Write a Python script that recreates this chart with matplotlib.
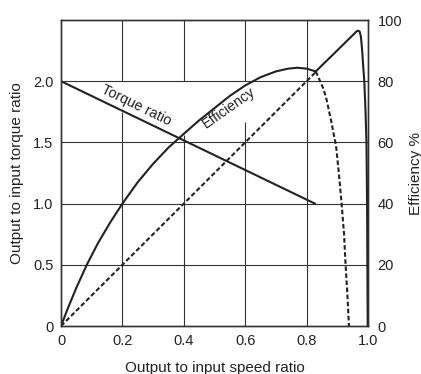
import matplotlib.pyplot as plt

plt.rcParams['font.family'] = ['Liberation Sans', 'DejaVu Sans']
plt.rcParams['font.size'] = 11

# Torque ratio line (left axis)
torque_x = [0.0, 0.827]
torque_y = [2.0, 1.0]

# Efficiency of the converter, rising part (right axis, %)
eff_x = [0, 0.02, 0.05, 0.084, 0.12, 0.16, 0.2, 0.25, 0.3, 0.35, 0.4, 0.45,
         0.5, 0.55, 0.6, 0.65, 0.7, 0.74, 0.77, 0.8, 0.83]
eff_y = [0, 5.2, 12.5, 20, 27, 33.8, 40, 47, 53, 58.3, 62.8, 67.2,
         71.2, 75.2, 78.6, 81.3, 83.2, 84.1, 84.4, 84.1, 83.2]

# Converter efficiency falling off (dashed)
drop_x = [0.83, 0.844, 0.855, 0.865, 0.88, 0.896, 0.905, 0.914, 0.922, 0.927, 0.933, 0.938]
drop_y = [83.2, 80, 77.5, 74, 67, 58.8, 50, 40, 30, 20, 10, 0]

# Coupling line, efficiency = speed ratio (dashed part)
coup_x = [0.0, 0.83]
coup_y = [0.0, 83.0]

# Coupling stage (solid) up to peak and sudden drop
top_x = [0.83, 0.955, 0.963, 0.968, 0.973, 0.977, 0.981, 0.985, 0.988, 0.992, 0.995, 0.997, 0.998, 0.999]
top_y = [83.2, 95.5, 96.3, 96.5, 96.2, 94.5, 90, 84, 80, 70, 60, 40, 20, 0]

x_ticks = [0, 0.2, 0.4, 0.6, 0.8, 1.0]
x_labels = ['0', '0.2', '0.4', '0.6', '0.8', '1.0']
left_ticks = [0, 0.5, 1.0, 1.5, 2.0]
left_labels = ['0', '0.5', '1.0', '1.5', '2.0']
right_ticks = [0, 20, 40, 60, 80, 100]

ink = '#222222'
grid_c = '#333333'

fig = plt.figure(figsize=(4.21, 3.74), dpi=100)
ax = fig.add_axes([61 / 421, 1 - 326 / 374, 307 / 421, 306 / 374])
ax2 = ax.twinx()

ax.set_xlim(0, 1.0)
ax.set_ylim(0, 2.5)
ax2.set_ylim(0, 100)

# grid, with gaps behind the labels
for y in left_ticks[1:]:
    ax.axhline(y, color=grid_c, lw=0.8, zorder=1)
ax.vlines(0.2, 0, 1.746, color=grid_c, lw=0.8, zorder=1)
ax.vlines(0.2, 2.0, 2.5, color=grid_c, lw=0.8, zorder=1)
ax.vlines(0.4, 0, 1.56, color=grid_c, lw=0.8, zorder=1)
ax.vlines(0.4, 2.0, 2.5, color=grid_c, lw=0.8, zorder=1)
ax.vlines(0.6, 0, 1.664, color=grid_c, lw=0.8, zorder=1)
ax.vlines(0.6, 2.0, 2.5, color=grid_c, lw=0.8, zorder=1)
ax.vlines(0.8, 0, 2.5, color=grid_c, lw=0.8, zorder=1)

ax.plot(torque_x, torque_y, color=ink, lw=1.5, zorder=3)
ax2.plot(eff_x, eff_y, color=ink, lw=1.5)
ax2.plot(top_x, top_y, color=ink, lw=1.5)
ax2.plot(drop_x, drop_y, color=ink, lw=1.5, dashes=(2.2, 1.2))
ax2.plot(coup_x, coup_y, color=ink, lw=1.5, dashes=(2.2, 1.2))

ax.text(0.246, 1.80, 'Torque ratio', rotation=-26, ha='center', va='center',
        color=ink, fontsize=10.3)
ax.text(0.547, 1.78, 'Efficiency', rotation=35, ha='center', va='center',
        color=ink, fontsize=10.3)

ax.set_xticks(x_ticks)
ax.set_xticklabels(x_labels)
ax.set_yticks(left_ticks)
ax.set_yticklabels(left_labels)
ax2.set_yticks(right_ticks)

for a in (ax, ax2):
    a.tick_params(length=0, labelcolor=ink, labelsize=10.5)
    for s in a.spines.values():
        s.set_color(grid_c)
        s.set_linewidth(1.0)
ax.tick_params(axis='x', pad=6)
ax.tick_params(axis='y', pad=5.5)
ax2.tick_params(axis='y', pad=7)

ax.set_xlabel('Output to input speed ratio', color=ink, fontsize=11)
ax.set_ylabel('Output to input torque ratio', color=ink, fontsize=11)
ax2.set_ylabel('Efficiency %', color=ink, fontsize=11)
ax.xaxis.set_label_coords(0.5, -0.113)
ax.yaxis.set_label_coords(-0.122, 0.5)
ax2.yaxis.set_label_coords(1.132, 0.5)

fig.savefig('out.png', dpi=100)
